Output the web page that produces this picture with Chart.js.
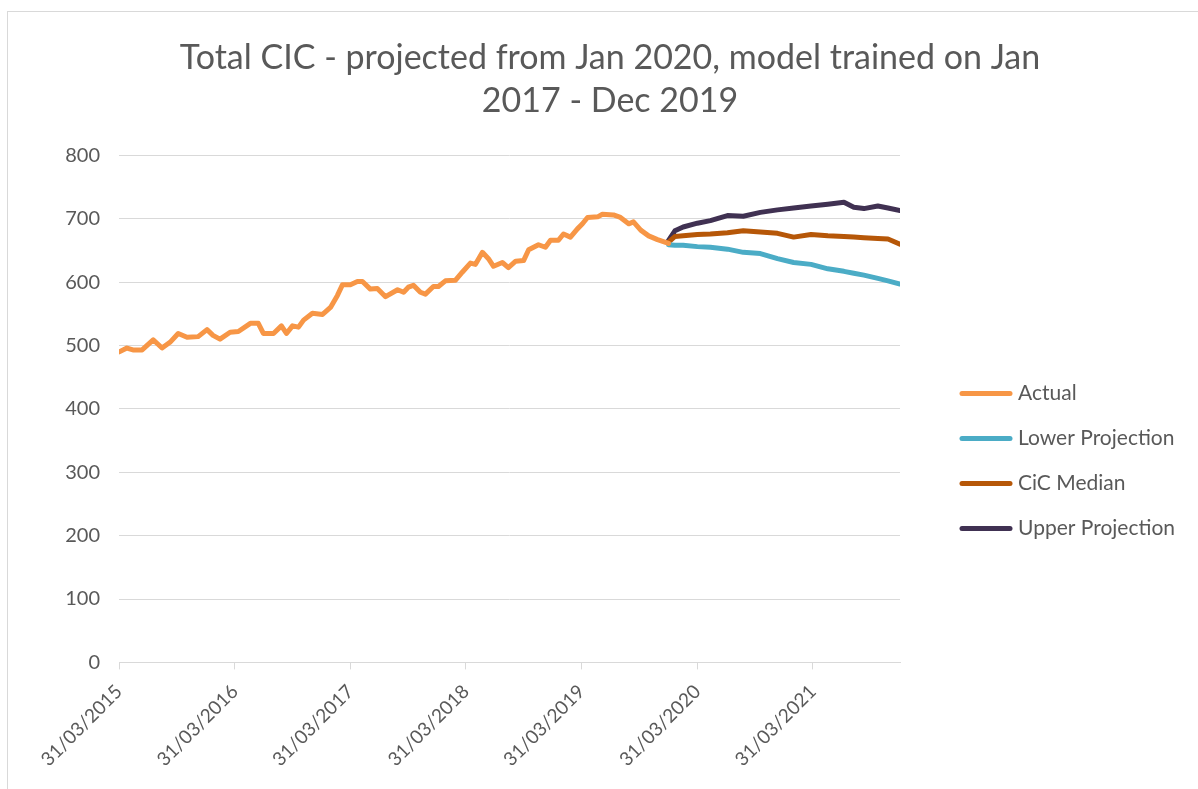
<!DOCTYPE html>
<html>
<head>
<meta charset="utf-8">
<script src="https://cdn.jsdelivr.net/npm/chart.js@4"></script>
<style>
  html, body { margin: 0; padding: 0; background: #fff; overflow: hidden; }
  #wrap { position: relative; width: 1198px; height: 789px; }
  #frame { position: absolute; left: 7px; top: 11px; width: 1210px; height: 800px; border: 1px solid #d9d9d9; pointer-events: none; }
</style>
</head>
<body>
<div id="wrap">
  <canvas id="cicChart"></canvas>
  <div id="frame"></div>
</div>
<script>
// data
const actualDates = ['2015-04-01','2015-04-25','2015-05-14','2015-06-12','2015-07-17','2015-08-14','2015-09-08','2015-10-04','2015-11-01','2015-12-06',
  '2016-01-03','2016-01-22','2016-02-13','2016-03-16','2016-04-11','2016-05-19','2016-06-13','2016-06-29','2016-07-31','2016-08-25',
  '2016-09-10','2016-09-29','2016-10-18','2016-11-03','2016-12-01','2017-01-02','2017-01-27','2017-02-18','2017-03-06','2017-03-31',
  '2017-04-22','2017-05-08','2017-06-02','2017-06-24','2017-07-20','2017-08-27','2017-09-15','2017-09-30','2017-10-16','2017-11-07',
  '2017-11-23','2017-12-18','2018-01-03','2018-01-25','2018-02-26','2018-03-20','2018-04-14','2018-04-30','2018-05-22','2018-06-10',
  '2018-06-26','2018-07-24','2018-08-12','2018-09-04','2018-09-29','2018-10-15','2018-11-15','2018-12-07','2018-12-23','2019-01-17',
  '2019-02-02','2019-02-24','2019-03-18','2019-04-03','2019-04-19','2019-05-21','2019-06-05','2019-07-10','2019-08-01','2019-08-27',
  '2019-09-11','2019-10-04','2019-10-29','2019-11-26','2019-12-31'];
const actualValues = [490,496,493,493,509,496,505,519,513,514,
  525,516,510,521,522,535,535,519,519,531,
  519,531,529,540,551,549,560,579,596,596,
  601,601,589,590,577,588,584,592,595,584,
  581,593,593,602,603,616,630,628,647,637,
  625,631,623,633,634,651,659,655,666,666,
  676,671,684,692,702,703,707,706,702,692,
  695,682,673,667,661];

const projDates = ['2019-12-31','2020-01-20','2020-02-15','2020-03-31','2020-05-11','2020-07-04','2020-08-23','2020-10-16','2020-12-09',
  '2021-01-29','2021-03-25','2021-05-17','2021-07-07','2021-08-07','2021-09-08','2021-10-22','2021-11-23','2021-12-31'];
const lowerValues  = [659,658,658,656,655,652,647,645,637,631,628,621,617,614,611,606,602,597];
const medianValues = [663,672,673,675,676,678,681,679,677,671,675,673,672,671,670,669,668,660];
const upperValues  = [666,681,687,693,697,705,704,710,714,717,720,723,726,718,716,720,717,713];

const tickDates = ['2015-03-31','2016-03-31','2017-03-31','2018-03-31','2019-03-31','2020-03-31','2021-03-31'];
const axisEnd = '2021-12-31';

const origin = Date.UTC(2015, 2, 31);
function dayOf(s) {
    const p = s.split('-');
    return Math.round((Date.UTC(+p[0], +p[1] - 1, +p[2]) - origin) / 86400000);
}
function fmt(day) {
    const d = new Date(origin + day * 86400000);
    const dd = String(d.getUTCDate()).padStart(2, '0');
    const mm = String(d.getUTCMonth() + 1).padStart(2, '0');
    return dd + '/' + mm + '/' + d.getUTCFullYear();
}
function points(dates, values) {
    return dates.map((d, i) => ({ x: dayOf(d), y: values[i] }));
}

const grey = '#595959';
const font = 'Lato, "Open Sans", sans-serif';

function series(label, data, color) {
    return {
        label: label,
        data: data,
        borderColor: color,
        backgroundColor: color,
        borderWidth: 5,
        pointRadius: 0,
        tension: 0,
        borderCapStyle: 'round',
        borderJoinStyle: 'round'
    };
}

// legend drawn to the right of the plot, like the Excel one
const sideLegend = {
    id: 'sideLegend',
    afterDraw: function (chart) {
        const ctx = chart.ctx;
        const area = chart.chartArea;
        const x0 = area.right + 60;
        const gap = 45;
        const sets = chart.data.datasets;
        const y0 = (area.top + area.bottom) / 2 + 52 - gap * (sets.length - 1) / 2;
        ctx.save();
        ctx.font = '21px ' + font;
        ctx.textBaseline = 'middle';
        ctx.textAlign = 'left';
        sets.forEach(function (ds, i) {
            const y = y0 + i * gap;
            ctx.strokeStyle = ds.borderColor;
            ctx.lineWidth = 5;
            ctx.lineCap = 'round';
            ctx.beginPath();
            ctx.moveTo(x0 + 2, y);
            ctx.lineTo(x0 + 50, y);
            ctx.stroke();
            ctx.fillStyle = grey;
            ctx.fillText(ds.label, x0 + 58, y);
        });
        ctx.restore();
    }
};

new Chart(document.getElementById('cicChart').getContext('2d'), {
    type: 'line',
    data: {
        datasets: [
            series('Actual', points(actualDates, actualValues), '#F79646'),
            series('Lower Projection', points(projDates, lowerValues), '#4BACC6'),
            series('CiC Median', points(projDates, medianValues), '#B65708'),
            series('Upper Projection', points(projDates, upperValues), '#403152')
        ]
    },
    options: {
        responsive: true,
        maintainAspectRatio: false,
        animation: false,
        layout: { padding: { left: 22, right: 0, top: 22, bottom: 7 } },
        scales: {
            x: {
                type: 'linear',
                min: 0,
                max: dayOf(axisEnd),
                afterBuildTicks: function (scale) {
                    scale.ticks = tickDates.map(d => ({ value: dayOf(d) }));
                },
                ticks: {
                    autoSkip: false,
                    minRotation: 45,
                    maxRotation: 45,
                    color: grey,
                    padding: 11,
                    font: { family: font, size: 19 },
                    callback: function (value) { return fmt(value); }
                },
                grid: { drawOnChartArea: false, drawTicks: true, tickLength: 7, color: '#d9d9d9' },
                border: { display: true, color: '#d9d9d9', width: 1 }
            },
            y: {
                min: 0,
                max: 800,
                afterFit: function (scale) { scale.width = 97; },
                ticks: { stepSize: 100, color: grey, padding: 19, font: { family: font, size: 20 } },
                grid: { color: '#d9d9d9', drawTicks: false },
                border: { display: false }
            },
            // empty axis that keeps room for the legend on the right
            legendRoom: {
                position: 'right',
                afterFit: function (scale) { scale.width = 298; },
                ticks: { display: false },
                grid: { display: false },
                border: { display: false }
            }
        },
        plugins: {
            title: {
                display: true,
                text: ['Total CIC - projected from Jan 2020, model trained on Jan', '2017 - Dec 2019'],
                color: grey,
                font: { family: font, size: 34, weight: 'normal', lineHeight: 1.27 },
                padding: { top: 14, bottom: 33 }
            },
            legend: { display: false },
            tooltip: { enabled: false }
        }
    },
    plugins: [sideLegend]
});
</script>
</body>
</html>
